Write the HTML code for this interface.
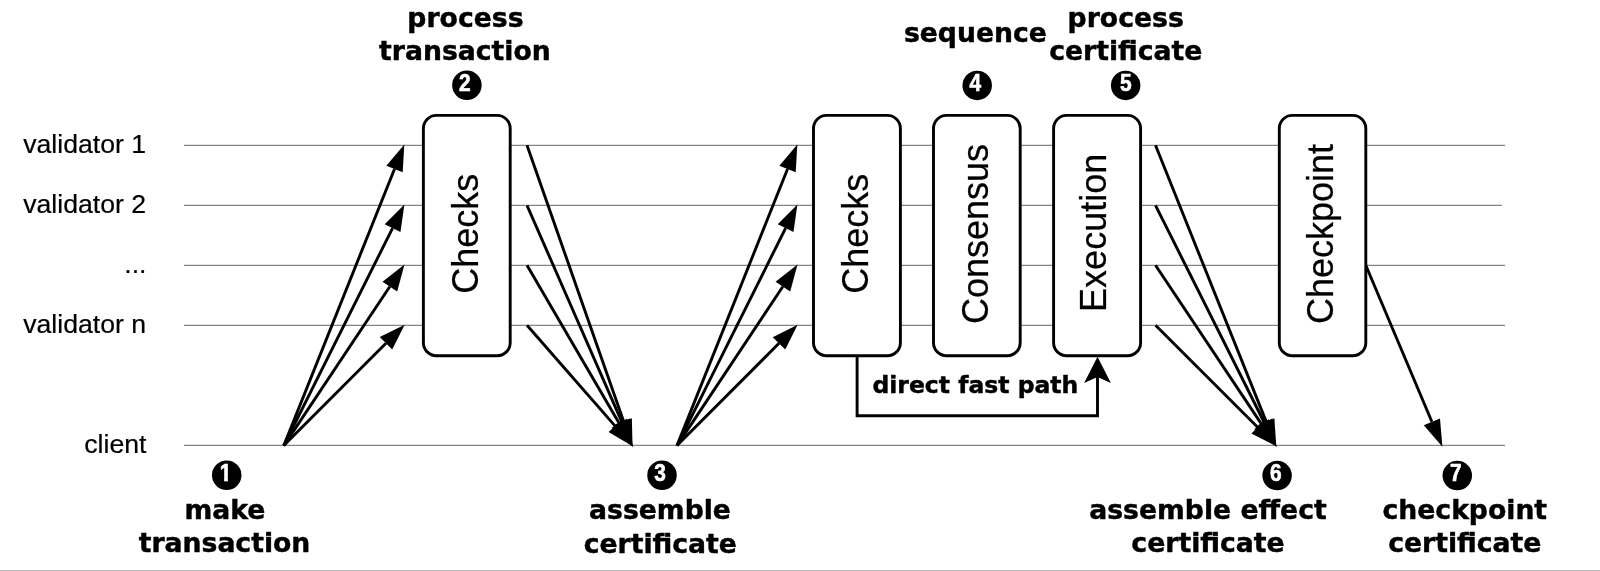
<!DOCTYPE html>
<html lang="en"><head><meta charset="utf-8"><title>Transaction lifecycle</title>
<style>
html,body{margin:0;padding:0;background:#fff;}
body{width:1600px;height:571px;overflow:hidden;}
svg{display:block;will-change:transform;}
.b{font-family:"DejaVu Sans","Liberation Sans",sans-serif;font-weight:bold;font-size:26.67px;fill:#000;text-anchor:middle;stroke:#000;stroke-width:0.45px;stroke-linejoin:round;}
.r{font-family:"Liberation Sans",sans-serif;font-size:26.67px;fill:#000;stroke:#000;stroke-width:0.2px;}
.v{font-family:"Liberation Sans",sans-serif;font-size:36px;fill:#000;stroke:#000;stroke-width:0.25px;}
.n{font-family:"Liberation Sans",sans-serif;font-weight:bold;font-size:22px;fill:#fff;text-anchor:middle;stroke:#fff;stroke-width:0.6px;}
.g{stroke:#858585;stroke-width:1.2;fill:none;}
.k{stroke:#000;stroke-width:2.9;fill:none;}
.box{stroke:#000;stroke-width:2.9;fill:#fff;}
</style></head><body>
<svg width="1600" height="571" viewBox="0 0 1600 571">
<rect width="1600" height="571" fill="#fff"/>
<line class="g" x1="184" y1="145.35" x2="1505" y2="145.35"/>
<line class="g" x1="184" y1="205.35" x2="1502" y2="205.35"/>
<line class="g" x1="184" y1="265.35" x2="1505" y2="265.35"/>
<line class="g" x1="184" y1="325.35" x2="1505" y2="325.35"/>
<line class="g" x1="184" y1="445.35" x2="1505" y2="445.35"/>
<rect x="0" y="570" width="1600" height="1" fill="#b9b9b9"/>
<text class="r" x="146.2" y="153" text-anchor="end">validator 1</text>
<text class="r" x="146.2" y="213" text-anchor="end">validator 2</text>
<text class="r" x="146.5" y="273" text-anchor="end">...</text>
<text class="r" x="146.2" y="333" text-anchor="end">validator n</text>
<text class="r" x="146.5" y="453" text-anchor="end">client</text>
<line class="k" x1="283.8" y1="445.6" x2="394.52" y2="168.97"/>
<polygon fill="#000" points="404.33,144.46 402.69,172.24 386.35,165.70"/>
<line class="k" x1="527" y1="145.3" x2="623.58" y2="421.23"/>
<polygon fill="#000" points="632.53,446.81 615.27,424.14 631.88,418.32"/>
<line class="k" x1="677" y1="445.6" x2="787.54" y2="168.98"/>
<polygon fill="#000" points="797.33,144.46 795.71,172.24 779.37,165.71"/>
<line class="k" x1="1155.5" y1="145.3" x2="1266.22" y2="421.63"/>
<polygon fill="#000" points="1276.30,446.79 1258.05,424.90 1274.38,418.36"/>
<line class="k" x1="283.8" y1="445.6" x2="392.59" y2="228.11"/>
<polygon fill="#000" points="404.40,204.50 400.46,232.04 384.72,224.17"/>
<line class="k" x1="527" y1="205.3" x2="621.78" y2="421.94"/>
<polygon fill="#000" points="632.64,446.77 613.72,425.47 629.84,418.41"/>
<line class="k" x1="677" y1="445.6" x2="785.61" y2="228.11"/>
<polygon fill="#000" points="797.40,204.49 793.48,232.05 777.73,224.18"/>
<line class="k" x1="1155.5" y1="205.3" x2="1264.28" y2="422.50"/>
<polygon fill="#000" points="1276.42,446.73 1256.41,426.44 1272.15,418.56"/>
<line class="k" x1="283.8" y1="445.6" x2="389.86" y2="286.52"/>
<polygon fill="#000" points="404.50,264.55 397.18,291.40 382.53,281.64"/>
<line class="k" x1="527" y1="265.3" x2="619.15" y2="423.27"/>
<polygon fill="#000" points="632.81,446.68 611.55,427.71 626.75,418.84"/>
<line class="k" x1="677" y1="445.6" x2="782.87" y2="286.53"/>
<polygon fill="#000" points="797.50,264.55 790.20,291.40 775.55,281.65"/>
<line class="k" x1="1155.5" y1="265.3" x2="1261.54" y2="424.09"/>
<polygon fill="#000" points="1276.59,446.63 1254.22,428.98 1268.86,419.21"/>
<line class="k" x1="283.8" y1="445.6" x2="385.98" y2="343.34"/>
<polygon fill="#000" points="404.64,324.66 392.20,349.56 379.75,337.12"/>
<line class="k" x1="527" y1="325.3" x2="615.21" y2="426.11"/>
<polygon fill="#000" points="633.05,446.50 608.59,431.90 621.83,420.31"/>
<line class="k" x1="677" y1="445.6" x2="778.99" y2="343.35"/>
<polygon fill="#000" points="797.64,324.66 785.22,349.57 772.76,337.14"/>
<line class="k" x1="1155.5" y1="325.3" x2="1257.65" y2="427.28"/>
<polygon fill="#000" points="1276.83,446.43 1251.44,433.51 1263.87,421.06"/>
<line class="k" x1="1365.8" y1="265.3" x2="1431.88" y2="421.81"/>
<polygon fill="#000" points="1442.42,446.77 1423.77,425.23 1439.99,418.39"/>
<rect class="box" x="423.4" y="115.4" width="86.80" height="240.3" rx="13" ry="13"/>
<text class="v" transform="translate(477.7,293.7) rotate(-90)">Checks</text>
<rect class="box" x="813.5" y="115.4" width="86.90" height="240.3" rx="13" ry="13"/>
<text class="v" transform="translate(868.1,293.7) rotate(-90)">Checks</text>
<rect class="box" x="933.5" y="115.4" width="86.70" height="240.3" rx="13" ry="13"/>
<text class="v" transform="translate(987.7,324.0) rotate(-90)">Consensus</text>
<rect class="box" x="1053.6" y="115.4" width="87.00" height="240.3" rx="13" ry="13"/>
<text class="v" transform="translate(1105.9,311.9) rotate(-90)">Execution</text>
<rect class="box" x="1279.3" y="115.4" width="86.50" height="240.3" rx="13" ry="13"/>
<text class="v" transform="translate(1333.1,324.0) rotate(-90)">Checkpoint</text>
<path class="k" d="M857.1 356.5 V415.7 H1097.5 V372"/>
<path fill="#000" d="M1097.5 356.8 L1110.9 382.9 L1097.5 377.1 L1084.1 382.9 Z"/>
<text class="b" style="font-size:23.5px" x="975.4" y="393">direct fast path</text>
<circle cx="226.7" cy="475.3" r="14.75" fill="#000"/>
<clipPath id="c1"><rect x="-10" y="-20" width="20" height="16.6"/><rect x="-1.45" y="-4" width="3.95" height="6"/></clipPath>
<text class="n" clip-path="url(#c1)" transform="translate(225.50 481.03) rotate(0.02) scale(0.95 1.1)">1</text>
<circle cx="466.9" cy="85.2" r="14.75" fill="#000"/>
<text class="n" transform="translate(464.90 91.08) rotate(0.02) scale(0.95 1.06)">2</text>
<circle cx="662" cy="475.3" r="14.75" fill="#000"/>
<text class="n" transform="translate(660.00 480.63) rotate(0.02) scale(0.95 1.06)">3</text>
<circle cx="977.2" cy="85.4" r="14.75" fill="#000"/>
<text class="n" transform="translate(975.30 90.98) rotate(0.02) scale(0.95 1.06)">4</text>
<circle cx="1125.65" cy="85.4" r="14.75" fill="#000"/>
<text class="n" transform="translate(1125.90 91.08) rotate(0.02) scale(0.95 1.06)">5</text>
<circle cx="1277.1" cy="475.6" r="14.75" fill="#000"/>
<text class="n" transform="translate(1275.85 481.38) rotate(0.02) scale(0.95 1.06)">6</text>
<circle cx="1457.3" cy="475.6" r="14.75" fill="#000"/>
<text class="n" transform="translate(1455.70 480.58) rotate(0.02) scale(0.95 1.06)">7</text>
<text class="b" x="465.45" y="27">process</text>
<text class="b" x="464.95" y="60">transaction</text>
<text class="b" x="975.4" y="42">sequence</text>
<text class="b" x="1125.7" y="27">process</text>
<text class="b" x="1125.8" y="60">certificate</text>
<text class="b" x="225" y="519">make</text>
<text class="b" x="224.5" y="552">transaction</text>
<text class="b" x="660" y="519">assemble</text>
<text class="b" x="660.3" y="553">certificate</text>
<text class="b" x="1208" y="519">assemble effect</text>
<text class="b" x="1208" y="552">certificate</text>
<text class="b" x="1464.8" y="519">checkpoint</text>
<text class="b" x="1464.8" y="552">certificate</text>
</svg></body></html>
